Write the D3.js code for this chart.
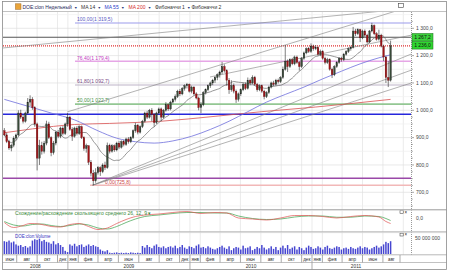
<!DOCTYPE html>
<html>
<head>
<meta charset="utf-8">
<script src="https://cdn.jsdelivr.net/npm/d3@7"></script>
<style>
body { margin: 0; background: #fff; }
svg { display: block; font-family: "Liberation Sans", Arial, sans-serif; }
</style>
</head>
<body>
<div id="plot"></div>
<script>
// weekly candles [open, high, low, close], first week starts 23 Jun 2008
const candles = [
  [925,935,905,910],[910,918,880,885],[885,892,855,862],[862,878,850,872],[872,905,865,898],
  [898,915,890,910],[910,1000,905,990],[990,1002,968,975],[975,985,952,960],[960,995,955,990],
  [990,1045,985,1030],[1030,1055,1015,1040],[1040,1048,1002,1010],[1010,1015,940,950],[950,955,780,825],
  [825,892,800,870],[870,885,838,850],[850,888,842,880],[880,962,872,950],[950,958,895,900],
  [900,905,832,845],[845,888,838,880],[880,925,872,920],[920,928,898,905],[905,940,898,935],
  [935,942,908,915],[915,955,910,950],[950,990,940,975],[975,980,925,930],[930,938,888,905],
  [905,940,900,935],[935,942,908,915],[915,945,910,940],[940,944,895,900],[900,905,852,860],
  [860,878,845,870],[870,872,800,810],[810,818,758,770],[770,782,726,742],[742,788,735,772],
  [772,796,765,790],[790,795,760,775],[775,806,770,800],[800,812,782,790],[790,882,786,870],
  [870,878,842,850],[850,876,845,870],[870,875,848,855],[855,885,850,880],[880,888,858,865],
  [865,890,860,885],[885,892,868,875],[875,900,870,895],[895,902,878,885],[885,905,880,900],
  [900,930,895,925],[925,955,918,945],[945,950,912,920],[920,945,915,940],[940,965,935,960],
  [960,995,955,990],[990,998,968,975],[975,1005,970,1000],[1000,1008,960,985],[985,990,940,955],
  [955,995,950,990],[990,1010,985,1005],[1005,1010,960,975],[975,1005,970,1000],[1000,1030,995,1020],
  [1020,1025,998,1005],[1005,1035,1000,1030],[1030,1045,1025,1040],[1040,1058,1032,1050],[1050,1075,1045,1070],
  [1070,1078,1052,1060],[1060,1085,1055,1080],[1080,1095,1072,1090],[1090,1100,1080,1095],[1095,1098,1065,1070],
  [1070,1090,1062,1085],[1085,1088,1055,1060],[1060,1066,1040,1045],[1045,1050,1000,1010],[1010,1030,990,1020],
  [1020,1070,1015,1065],[1065,1080,1058,1075],[1075,1095,1070,1090],[1090,1105,1082,1100],[1100,1115,1092,1110],
  [1110,1125,1100,1120],[1120,1135,1110,1130],[1130,1145,1120,1140],[1140,1177,1132,1160],[1160,1168,1138,1145],
  [1145,1150,1090,1110],[1110,1118,1060,1075],[1075,1110,1068,1090],[1090,1098,1062,1070],[1070,1076,1027,1040],
  [1040,1065,1032,1060],[1060,1080,1052,1075],[1075,1100,1070,1095],[1095,1102,1074,1080],[1080,1120,1076,1110],
  [1110,1116,1092,1100],[1100,1128,1096,1120],[1120,1126,1090,1095],[1095,1100,1068,1075],[1075,1095,1070,1090],
  [1090,1094,1064,1070],[1070,1075,1040,1050],[1050,1070,1045,1065],[1065,1090,1060,1085],[1085,1105,1080,1100],
  [1100,1108,1088,1095],[1095,1115,1090,1110],[1110,1116,1098,1105],[1105,1125,1100,1120],[1120,1160,1115,1150],
  [1150,1238,1145,1180],[1180,1186,1140,1160],[1160,1190,1155,1185],[1185,1192,1165,1170],[1170,1200,1165,1195],
  [1195,1200,1170,1175],[1175,1180,1145,1160],[1160,1195,1155,1190],[1190,1215,1185,1210],[1210,1230,1205,1225],
  [1225,1232,1210,1215],[1215,1245,1210,1235],[1235,1240,1218,1225],[1225,1238,1220,1230],[1230,1234,1200,1205],
  [1205,1222,1198,1215],[1215,1220,1185,1190],[1190,1196,1168,1175],[1175,1192,1170,1185],[1185,1190,1145,1150],
  [1150,1156,1118,1130],[1130,1165,1125,1160],[1160,1180,1155,1175],[1175,1195,1170,1190],[1190,1196,1178,1185],
  [1185,1210,1180,1205],[1205,1220,1200,1215],[1215,1230,1210,1225],[1225,1236,1218,1230],[1230,1305,1226,1290],
  [1290,1298,1272,1280],[1280,1300,1275,1295],[1295,1298,1250,1265],[1265,1295,1260,1290],[1290,1296,1268,1275],
  [1275,1280,1245,1250],[1250,1294,1246,1290],[1290,1320,1285,1310],[1310,1314,1275,1280],[1280,1286,1255,1260],
  [1260,1295,1255,1275],[1275,1280,1230,1235],[1235,1240,1180,1195],[1195,1200,1100,1120],[1120,1180,1085,1110],
  [1110,1255,1105,1236]
];

// weekly volume, millions
const volumes = [
  40,38,42,36,39,30,26,28,22,25, 20,24,42,46,44,48,40,44,38,36,
  32,40,30,34,28,22,10,6,30,26, 32,24,28,30,22,26,30,25,28,24,
  22,14,10,8,12,4,3,4,5,3, 4,3,4,3,5,4,3,4,3,25,
  20,28,22,18,26,30,22,20,24,18, 22,24,20,26,18,22,28,20,16,24,
  22,18,26,30,20,22,18,24,20,16, 14,18,22,26,20,16,24,12,18,22,
  20,14,26,18,20,24,12,16,22,18, 28,20,14,18,24,16,22,12,20,26,
  18,28,16,20,24,14,22,18,12,20, 26,22,16,18,24,20,14,22,26,18,
  16,20,24,22,14,18,20,16,22,18, 16,20,24,18,22,20,14,18,22,26,
  20,24,30,38,34,40
];

// moving averages [week, price]
const ma55Pts = [[0,1040],[10,1015],[20,990],[30,965],[40,925],[48,898],[56,885],[64,880],[72,888],
  [80,905],[88,930],[96,960],[104,995],[112,1030],[120,1058],[128,1085],[136,1115],[144,1143],
  [152,1170],[160,1192],[165,1203]];
const ma200Pts = [[0,918],[12,932],[30,948],[45,952],[67,960],[90,978],[110,995],[133,1012],[165,1040]];

// MACD 26,12,9 [week, value]
const macdFast = [[0,-18],[4,-38],[8,-30],[11,-22],[15,-24],[20,-34],[24,-36],[28,-26],[32,-22],[36,-34],
  [40,-46],[44,-40],[48,-22],[52,-6],[56,6],[60,12],[66,16],[72,22],[78,26],[84,18],[90,22],[95,20],
  [100,0],[106,-4],[112,-8],[118,0],[124,10],[130,10],[136,6],[142,0],[148,6],[154,10],[160,4],[163,-14],[165,-22]];
const macdSlow = [[0,-14],[4,-28],[8,-32],[12,-26],[16,-24],[20,-30],[24,-34],[28,-30],[32,-24],[36,-28],
  [40,-40],[44,-44],[48,-34],[52,-18],[56,-4],[60,6],[66,12],[72,18],[78,22],[84,22],[90,20],[95,20],
  [100,8],[106,-2],[112,-6],[118,-4],[124,4],[130,8],[136,8],[142,3],[148,3],[154,8],[160,6],[163,-2],[165,-10]];

// fibonacci levels [label, price]
const fibLevels = [["100,00",1319.5],["76,40",1179.4],["61,80",1092.7],["50,00",1022.7],["0,00",725.8]];
// other horizontal levels
const levelLines = [1267.2, 1236.0, 986, 751];
const lastLabels = [1267.2, 1236.0];
// trend lines [[week, price],[week, price]]
const trendLines = [
  [[26.8,994],[169.9,1370]], [[-0.6,1228],[169.9,1370]],
  [[37.7,726],[173.8,1206]], [[37.7,726],[173.8,1147]], [[37.7,726],[173.8,1100]],
  [[87.9,1122],[173.8,1275]]
];
const priceTicks = [700,800,900,1000,1100,1200,1300];
const monthNames = ["янв","фев","мар","апр","май","июн","июл","авг","сен","окт","ноя","дек"];
const years = ["2008","2009","2010","2011"];

const W = 450, H = 272;
const L = 3, R = 411;
const mainTop = 12, mainBot = 209.5;
const macdTop = 210.5, macdBot = 231.5;
const volTop = 232.5, volBot = 254.5;

const svg = d3.select("#plot").append("svg").attr("width", W).attr("height", H);

const x = d3.scaleTime()
  .domain([new Date(2008,5,21), new Date(2011,9,24)])
  .range([L, R]);
const wk = i => d3.timeDay.offset(new Date(2008,5,25), Math.round(7*i));
const xi = i => x(wk(i));

const y = d3.scaleLinear().domain([700,1300]).range([192.3,28.3]);
const yMacd = d3.scaleLinear().domain([-52,28]).range([231,211]);
const yVol = d3.scaleLinear().domain([0,50]).range([254,238]);

const ru = d3.formatLocale({decimal: ",", thousands: " ", grouping: [3], currency: ["",""]});
const fmt1 = ru.format(",.1f");

// clip paths
const defs = svg.append("defs");
defs.append("clipPath").attr("id","cMain").append("rect")
  .attr("x",L).attr("y",mainTop).attr("width",R-L).attr("height",mainBot-mainTop);
defs.append("clipPath").attr("id","cMacd").append("rect")
  .attr("x",L).attr("y",macdTop).attr("width",R-L).attr("height",macdBot-macdTop);

// month ticks: even months + january
const mTicks = d3.timeMonth.range(new Date(2008,5,1), new Date(2011,9,2))
  .filter(m => m.getMonth() % 2 === 1 || m.getMonth() === 0);
const gridX = mTicks.map(m => x(m)).filter(v => v > L + 1 && v < R);

// vertical grid in all panels
[[mainTop,mainBot],[macdTop,macdBot],[volTop,volBot]].forEach(([a,b]) => {
  svg.append("g").selectAll("line").data(gridX).join("line")
    .attr("x1", d => d).attr("x2", d => d).attr("y1", a).attr("y2", b)
    .attr("stroke", "#e2e2e2").attr("stroke-width", 0.7);
});

// horizontal price grid
svg.append("g").selectAll("line").data(d3.range(650,1351,50)).join("line")
  .attr("x1", L).attr("x2", R)
  .attr("y1", d => y(d)).attr("y2", d => y(d))
  .attr("stroke", d => d % 100 === 0 ? "#e0e0e0" : "#efefef").attr("stroke-width", 0.7)
  .attr("clip-path","url(#cMain)");

const main = svg.append("g").attr("clip-path","url(#cMain)");

// fibonacci lines
const fibColor = ["#9c9cec","#e6a6e6","#bdb3c8","#93c793","#f2b8b8"];
const fibText = ["#5a5abf","#c23cc2","#7a4a86","#3f8f3f","#cc4444"];
const fibStart = [75,75,75,75,90];
const fibLabelX = [77,77,77,77,105];
fibLevels.forEach((f,k) => {
  main.append("line").attr("x1", fibStart[k]).attr("x2", R)
    .attr("y1", y(f[1])).attr("y2", y(f[1]))
    .attr("stroke", fibColor[k]).attr("stroke-width", k === 3 || k === 1 || k === 4 ? 1.6 : 1.1);
  main.append("text").attr("x", fibLabelX[k]).attr("y", y(f[1]) - 1.6)
    .attr("font-size", 5).attr("fill", fibText[k])
    .text(f[0] + "(" + fmt1(f[1]) + ")");
});

// level lines
const lvlStyle = [
  {c:"#555", w:1.1, d:null},
  {c:"#e03030", w:1.2, d:"1,1"},
  {c:"#2626dc", w:1.5, d:null},
  {c:"#9a48a8", w:1.5, d:null}
];
levelLines.forEach((v,k) => {
  main.append("line").attr("x1", L).attr("x2", R).attr("y1", y(v)).attr("y2", y(v))
    .attr("stroke", lvlStyle[k].c).attr("stroke-width", lvlStyle[k].w)
    .attr("stroke-dasharray", lvlStyle[k].d);
});

// trend lines
main.append("g").selectAll("line").data(trendLines).join("line")
  .attr("x1", d => xi(d[0][0])).attr("y1", d => y(d[0][1]))
  .attr("x2", d => xi(d[1][0])).attr("y2", d => y(d[1][1]))
  .attr("stroke", "#808080").attr("stroke-width", 0.6);

// moving averages
const closes = candles.map(c => c[3]);
const ma14 = closes.map((c,i) => [i, d3.mean(closes.slice(Math.max(0,i-13), i+1))]);
const line = d3.line().x(d => xi(d[0])).y(d => y(d[1])).curve(d3.curveMonotoneX);
main.append("path").datum(ma200Pts).attr("d", line)
  .attr("fill","none").attr("stroke","#d85050").attr("stroke-width",0.8);
main.append("path").datum(ma55Pts).attr("d", line)
  .attr("fill","none").attr("stroke","#6f6fdc").attr("stroke-width",0.8);
main.append("path").datum(ma14).attr("d", line)
  .attr("fill","none").attr("stroke","#6a6a6a").attr("stroke-width",0.7);

// candles
const cg = main.append("g");
cg.selectAll("line").data(candles).join("line")
  .attr("x1", (d,i) => xi(i)).attr("x2", (d,i) => xi(i))
  .attr("y1", d => y(d[1])).attr("y2", d => y(d[2]))
  .attr("stroke", "#2a2a2a").attr("stroke-width", 0.6);
cg.selectAll("rect").data(candles).join("rect")
  .attr("x", (d,i) => xi(i) - 0.8).attr("width", 1.6)
  .attr("y", d => y(Math.max(d[0],d[3])))
  .attr("height", d => Math.max(0.8, Math.abs(y(d[0]) - y(d[3]))))
  .attr("fill", d => d[3] >= d[0] ? "#384a38" : "#a01418")
  .attr("stroke", d => d[3] >= d[0] ? "#1e1e1e" : "#600808").attr("stroke-width", 0.3);

// MACD panel
const mline = d3.line().x(d => xi(d[0])).y(d => yMacd(d[1])).curve(d3.curveMonotoneX);
const mg = svg.append("g").attr("clip-path","url(#cMacd)");
mg.append("path").datum(macdSlow).attr("d", mline)
  .attr("fill","none").attr("stroke","#3aa04a").attr("stroke-width",0.7);
mg.append("path").datum(macdFast).attr("d", mline)
  .attr("fill","none").attr("stroke","#e05050").attr("stroke-width",0.7);
svg.append("text").attr("x", 15).attr("y", 214.5).attr("font-size", 5).attr("fill", "#3a8a3a")
  .text("Схождение/расхождение скользящего среднего 26, 12, 9 ▾");

// volume panel
svg.append("g").selectAll("rect").data(volumes).join("rect")
  .attr("x", (d,i) => xi(i) - 0.75).attr("width", 1.5)
  .attr("y", d => yVol(d)).attr("height", d => yVol(0) - yVol(d))
  .attr("fill", "#4646d0");
svg.append("text").attr("x", 15).attr("y", 237.5).attr("font-size", 4.5).attr("fill", "#3434c0")
  .text("DOE:clon:Volume");

// panel icons
[[213.5],[236]].forEach(([yy]) => {
  svg.append("rect").attr("x", 400).attr("y", yy - 2.8).attr("width", 3.2).attr("height", 2.8)
    .attr("fill","none").attr("stroke","#333").attr("stroke-width",0.5);
  svg.append("text").attr("x", 404.5).attr("y", yy).attr("font-size", 4.5).attr("fill","#222").text("×");
});
svg.append("rect").attr("x", 398.5).attr("y", 3.5).attr("width", 5).attr("height", 4)
  .attr("fill","#fff").attr("stroke","#444").attr("stroke-width",0.6);

// right axis
svg.append("line").attr("x1", R + 0.5).attr("x2", R + 0.5).attr("y1", mainTop).attr("y2", volBot)
  .attr("stroke", "#555").attr("stroke-width", 0.6).attr("stroke-dasharray", "1,1");
svg.append("g").selectAll("line").data(d3.range(650,1351,25)).join("line")
  .attr("x1", R + 0.5).attr("x2", d => d % 100 === 0 ? R + 3 : R + 1.8)
  .attr("y1", d => y(d)).attr("y2", d => y(d))
  .attr("stroke", "#555").attr("stroke-width", 0.5)
  .attr("display", d => y(d) > mainTop && y(d) < mainBot ? null : "none");
svg.append("g").selectAll("text").data(priceTicks).join("text")
  .attr("x", 416).attr("y", d => y(d) + 1.8)
  .attr("font-size", 5).attr("fill", "#444")
  .text(d => fmt1(d));
svg.append("text").attr("x", 416).attr("y", 220).attr("font-size", 5).attr("fill", "#444").text("0,0");
svg.append("text").attr("x", 415).attr("y", 239.5).attr("font-size", 5).attr("fill", "#444").text("50 000 000");

// last value labels
const lastCol = ["#3bd23b","#2fd62f"];
lastLabels.forEach((v,k) => {
  const yy = y(v) + (k === 0 ? -3.8 : -4.3);
  svg.append("rect").attr("x", 412).attr("y", yy).attr("width", 21).attr("height", 7.6)
    .attr("fill", lastCol[k]).attr("stroke", "#1a6a1a").attr("stroke-width", 0.5);
  svg.append("text").attr("x", 422.5).attr("y", yy + 5.6).attr("text-anchor","middle")
    .attr("font-size", 5).attr("fill", "#111").text(fmt1(v));
});

// top legend
svg.append("rect").attr("x", 15.5).attr("y", 3.8).attr("width", 5.5).attr("height", 5.5)
  .attr("fill", "#e9a43a").attr("stroke", "#a0651a").attr("stroke-width", 0.5);
const legend = [
  ["DOE:clon Недельный", 22.5, "#1f2a5a", true],
  ["MA 14", 81, "#333", true],
  ["MA 55", 104.5, "#2a3ac8", true],
  ["MA 200", 128.5, "#d42a2a", true],
  ["Фибоначчи 1", 155, "#333", true],
  ["Фибоначчи 2", 191.5, "#333", false]
];
legend.forEach(([t, lx, c, arrow]) => {
  const tx = svg.append("text").attr("x", lx).attr("y", 9.2).attr("font-size", 5).attr("fill", c).text(t);
  if (arrow) {
    const w = tx.node().getComputedTextLength();
    svg.append("text").attr("x", lx + w + 2.2).attr("y", 9).attr("font-size", 3.6).attr("fill", "#2a3a7a").text("▼");
  }
});

// bottom time axis
const axTop = 255, axMid = 262.5, axBot = 269.5, axEnd = 400;
const tickXs = mTicks.map(m => ({m, x: x(m)}));
tickXs.forEach((t,k) => {
  const x0 = Math.max(L, t.x);
  const x1 = k + 1 < tickXs.length ? Math.min(axEnd, tickXs[k+1].x) : axEnd;
  if (t.x > L && t.x < axEnd) {
    svg.append("line").attr("x1", t.x).attr("x2", t.x).attr("y1", axTop)
      .attr("y2", t.m.getMonth() === 0 ? axBot : axMid)
      .attr("stroke", "#555").attr("stroke-width", 0.5);
  }
  if (x1 - x0 >= 9 && x0 < axEnd) {
    svg.append("text").attr("x", (x0 + x1) / 2).attr("y", 260.6).attr("text-anchor","middle")
      .attr("font-size", 4.6).attr("fill", "#333").text(monthNames[t.m.getMonth()]);
  }
});
svg.append("line").attr("x1", axEnd).attr("x2", axEnd).attr("y1", axTop).attr("y2", axMid)
  .attr("stroke", "#555").attr("stroke-width", 0.5);
years.forEach((yr,k) => {
  const x0 = Math.max(L, x(new Date(2008 + k, 0, 1)));
  const x1 = Math.min(axEnd, x(new Date(2009 + k, 0, 1)));
  svg.append("text").attr("x", (x0 + x1) / 2).attr("y", 268.2).attr("text-anchor","middle")
    .attr("font-size", 4.8).attr("fill", "#333").text(yr);
});

// panel borders
[[11.5,"#999"],[209.5,"#888"],[210.5,"#ccc"],[231.8,"#888"],[232.6,"#ccc"],[254.8,"#888"],[axMid,"#999"]]
  .forEach(([yy,c]) => {
    svg.append("line").attr("x1", 2.5).attr("x2", 446.5).attr("y1", yy).attr("y2", yy)
      .attr("stroke", c).attr("stroke-width", 0.6);
  });
svg.append("rect").attr("x", 2.5).attr("y", 1.5).attr("width", 444).attr("height", 268)
  .attr("fill", "none").attr("stroke", "#8a8a8a").attr("stroke-width", 0.8);
</script>
</body>
</html>
